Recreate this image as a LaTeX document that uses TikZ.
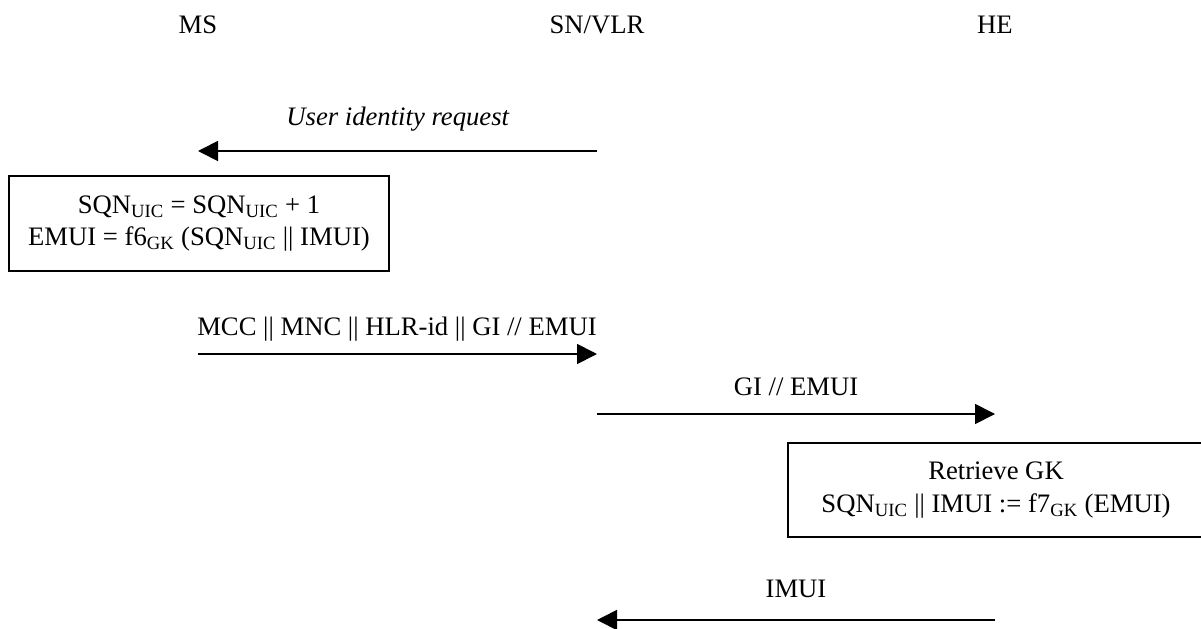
\documentclass[tikz,border=0pt]{standalone}
\usepackage{fontspec}
\setmainfont{Liberation Serif}
\usetikzlibrary{arrows.meta}

\newcommand{\sub}[1]{\textsubscript{#1}}

\tikzset{
  lbl/.style={anchor=base,inner sep=0pt},
  msg/.style={line width=1.3pt,-{Triangle[length=15pt,width=15pt]}},
  procbox/.style={draw,line width=1.3pt,align=center,inner sep=0pt}
}

\begin{document}
\begin{tikzpicture}[x=0.75pt,y=-0.75pt,font=\fontsize{20}{24.5}\selectfont]
  \useasboundingbox (0,0) rectangle (1201,628);

  % entities
  \node[lbl] (ms) at (198,33) {MS};
  \node[lbl] (sn) at (597,33) {SN/VLR};
  \node[lbl] (he) at (995,33) {HE};

  % message rows
  \coordinate (r1) at (0,151);
  \coordinate (r2) at (0,354);
  \coordinate (r3) at (0,414);
  \coordinate (r4) at (0,620);

  \node[lbl] (req) at (398,125) {\textit{User identity request}};
  \draw[msg] (sn |- r1) -- (ms |- r1);

  \node[procbox,minimum width=285pt,minimum height=71.25pt] (upd) at (199,223.5)
    {SQN\sub{UIC} = SQN\sub{UIC} + 1\\EMUI = f6\sub{GK} (SQN\sub{UIC} || IMUI)};

  \node[lbl] (gimsg) at (397,335) {MCC || MNC || HLR-id || GI // EMUI};
  \draw[msg] (ms |- r2) -- (sn |- r2);

  \node[lbl] (fwd) at (796,395) {GI // EMUI};
  \draw[msg] (sn |- r3) -- (he |- r3);

  \node[procbox,minimum width=312pt,minimum height=70.5pt] (retr) at (996,490)
    {Retrieve GK\\SQN\sub{UIC} || IMUI := f7\sub{GK} (EMUI)};

  \node[lbl] (ans) at (796,597) {IMUI};
  \draw[msg] (he |- r4) -- (sn |- r4);
\end{tikzpicture}
\end{document}
